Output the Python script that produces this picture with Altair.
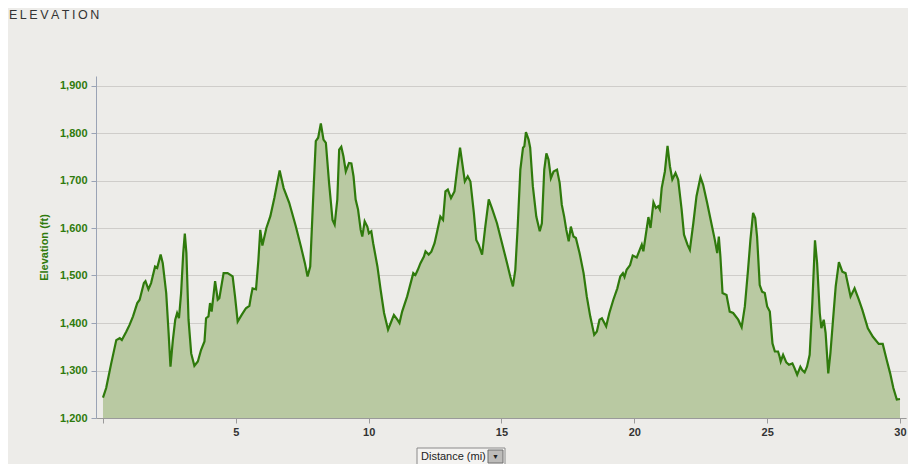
"""Elevation profile of a 30 mile route, drawn with Altair."""

import pandas as pd
import altair as alt

# distance along the route (miles) and elevation (feet)
distance_mi = [
    0.0, 0.12, 0.31, 0.5, 0.63, 0.71, 0.88, 1.0, 1.13, 1.29, 1.38, 1.54, 1.6,
    1.71, 1.81, 1.96, 2.04, 2.17, 2.25, 2.38, 2.47, 2.54, 2.63, 2.72, 2.79,
    2.86, 2.94, 3.02, 3.08, 3.14, 3.22, 3.32, 3.44, 3.57, 3.69, 3.82, 3.88,
    3.97, 4.03, 4.09, 4.22, 4.32, 4.38, 4.54, 4.69, 4.88, 4.97, 5.07, 5.22,
    5.38, 5.51, 5.57, 5.63, 5.76, 5.85, 5.92, 6.0, 6.15, 6.3, 6.45, 6.65, 6.8,
    7.01, 7.26, 7.45, 7.6, 7.7, 7.8, 7.92, 8.01, 8.1, 8.2, 8.3, 8.39, 8.51,
    8.64, 8.72, 8.82, 8.89, 8.97, 9.05, 9.14, 9.26, 9.35, 9.43, 9.51, 9.6, 9.7,
    9.76, 9.85, 9.95, 10.01, 10.1, 10.17, 10.33, 10.45, 10.58, 10.73, 10.83,
    10.95, 11.08, 11.16, 11.26, 11.45, 11.68, 11.76, 11.85, 11.95, 12.08,
    12.14, 12.26, 12.36, 12.48, 12.58, 12.7, 12.8, 12.89, 12.98, 13.1, 13.23,
    13.33, 13.44, 13.54, 13.62, 13.73, 13.83, 13.96, 14.05, 14.14, 14.27,
    14.39, 14.52, 14.64, 14.83, 15.02, 15.21, 15.33, 15.43, 15.52, 15.61,
    15.71, 15.81, 15.86, 15.92, 16.02, 16.08, 16.18, 16.31, 16.44, 16.52,
    16.61, 16.69, 16.77, 16.86, 16.96, 17.09, 17.19, 17.27, 17.36, 17.44,
    17.53, 17.61, 17.71, 17.8, 17.94, 18.09, 18.21, 18.34, 18.49, 18.59,
    18.69, 18.78, 18.94, 19.06, 19.21, 19.36, 19.47, 19.57, 19.63, 19.71,
    19.84, 19.94, 20.09, 20.28, 20.34, 20.44, 20.53, 20.61, 20.72, 20.81,
    20.9, 20.96, 21.03, 21.15, 21.25, 21.34, 21.43, 21.55, 21.65, 21.78,
    21.87, 22.0, 22.09, 22.22, 22.34, 22.49, 22.59, 22.74, 22.9, 23.03, 23.12,
    23.18, 23.24, 23.32, 23.47, 23.59, 23.72, 23.91, 24.04, 24.16, 24.28,
    24.37, 24.47, 24.55, 24.62, 24.72, 24.81, 24.91, 25.0, 25.1, 25.2, 25.29,
    25.41, 25.47, 25.51, 25.6, 25.72, 25.82, 25.95, 26.03, 26.13, 26.25,
    26.32, 26.41, 26.5, 26.6, 26.7, 26.8, 26.88, 26.98, 27.04, 27.13, 27.2,
    27.3, 27.38, 27.48, 27.58, 27.7, 27.83, 27.95, 28.14, 28.29, 28.45, 28.58,
    28.79, 28.98, 29.2, 29.35, 29.5, 29.63, 29.75, 29.88, 30.0,
]
elevation_ft = [
    1243, 1263, 1315, 1364, 1368, 1364, 1382, 1396, 1414, 1442, 1449, 1484,
    1488, 1471, 1484, 1519, 1516, 1544, 1526, 1463, 1379, 1308, 1364, 1407,
    1421, 1410, 1463, 1547, 1588, 1547, 1407, 1336, 1310, 1319, 1343, 1361,
    1410, 1414, 1442, 1424, 1488, 1449, 1452, 1505, 1505, 1498, 1456, 1403,
    1417, 1431, 1436, 1456, 1473, 1471, 1533, 1596, 1563, 1600, 1625, 1663,
    1721, 1684, 1653, 1603, 1561, 1526, 1498, 1519, 1674, 1783, 1790, 1820,
    1786, 1779, 1695, 1617, 1607, 1660, 1765, 1771, 1751, 1719, 1737, 1736,
    1709, 1660, 1639, 1596, 1582, 1614, 1603, 1589, 1593, 1568, 1519, 1470,
    1421, 1386, 1400, 1417, 1407, 1400, 1424, 1456, 1505, 1501, 1512, 1526,
    1540, 1551, 1544, 1550, 1568, 1593, 1624, 1617, 1677, 1681, 1663, 1677,
    1723, 1769, 1730, 1698, 1709, 1698, 1632, 1575, 1565, 1544, 1603, 1660,
    1642, 1610, 1568, 1526, 1498, 1477, 1512, 1603, 1723, 1769, 1772, 1802,
    1786, 1769, 1688, 1624, 1593, 1610, 1723, 1757, 1744, 1705, 1719, 1723,
    1695, 1649, 1624, 1596, 1572, 1603, 1582, 1579, 1547, 1505, 1456, 1414,
    1375, 1382, 1407, 1410, 1393, 1421, 1449, 1473, 1498, 1505, 1497, 1512,
    1522, 1542, 1538, 1565, 1551, 1589, 1623, 1600, 1654, 1642, 1646, 1639,
    1684, 1719, 1773, 1730, 1702, 1716, 1702, 1639, 1586, 1565, 1554, 1610,
    1667, 1707, 1691, 1653, 1610, 1575, 1547, 1582, 1540, 1463, 1459, 1424,
    1421, 1407, 1391, 1435, 1512, 1575, 1632, 1621, 1582, 1480, 1466, 1463,
    1435, 1424, 1357, 1340, 1340, 1329, 1319, 1333, 1317, 1312, 1315, 1305,
    1291, 1308, 1301, 1296, 1308, 1333, 1442, 1574, 1526, 1421, 1389, 1407,
    1379, 1294, 1336, 1407, 1477, 1528, 1508, 1505, 1456, 1473, 1449, 1428,
    1389, 1371, 1356, 1356, 1322, 1294, 1263, 1239, 1240,
]
x_ticks = [0, 5, 10, 15, 20, 25, 30]
y_ticks = [1200, 1300, 1400, 1500, 1600, 1700, 1800, 1900]

FONT = "Liberation Sans"
GREEN = "#2f7a0c"

df = pd.DataFrame({"distance": distance_mi, "elevation": elevation_ft})

profile = alt.Chart(df).mark_area(
    color="#b9c9a2", opacity=1, clip=True,
    line=alt.LineConfig(color=GREEN, strokeWidth=2.2)
).encode(
    x=alt.X("distance:Q",
            scale=alt.Scale(domain=[-0.263, 30.226], nice=False, zero=False),
            axis=alt.Axis(values=x_ticks, title="", grid=False,
                          labelExpr="datum.value == 0 ? '' : datum.label",
                          labelFont=FONT, labelFontSize=11,
                          labelFontWeight="bold", labelColor="#333333",
                          labelPadding=3, tickSize=5, tickColor="#9a9a9a",
                          domainColor="#9a9a9a")),
    y=alt.Y("elevation:Q",
            scale=alt.Scale(domain=[1200, 1920], nice=False, zero=False),
            axis=alt.Axis(values=y_ticks, format=",.0f",
                          title="Elevation (ft)",
                          titleFont=FONT, titleFontSize=11,
                          titleFontWeight="bold", titleColor=GREEN,
                          titlePadding=10,
                          labelFont=FONT, labelFontSize=11,
                          labelFontWeight="bold", labelColor=GREEN,
                          labelPadding=4, tickSize=5, tickColor="#9aa3b5",
                          domainColor="#9aa3b5", gridColor="#cfcdca")),
)

heading = alt.Chart(pd.DataFrame({"t": ["E\u2009L\u2009E\u2009V\u2009A\u2009T\u2009I\u2009O\u2009N"]})).mark_text(
    align="left", baseline="alphabetic", font=FONT, fontSize=12.5,
    color="#333333"
).encode(x=alt.value(-87), y=alt.value(-57), text="t:N")

# the "Distance (mi)" selector under the x axis
selector = pd.DataFrame({"label": ["Distance (mi)"]})
box = alt.Chart(selector).mark_rect(
    fill="#f4f3f1", stroke="#8a8a8a", strokeWidth=1
).encode(x=alt.value(321), x2=alt.value(409), y=alt.value(372), y2=alt.value(389))
button = alt.Chart(selector).mark_rect(
    fill="#bdbcba", stroke="#6f6f6f", strokeWidth=1
).encode(x=alt.value(392), x2=alt.value(407), y=alt.value(374), y2=alt.value(387))
arrow = alt.Chart(selector).mark_text(
    text="\u25bc", fontSize=7, color="#222222", align="center", baseline="middle"
).encode(x=alt.value(399.5), y=alt.value(381))
label = alt.Chart(selector).mark_text(
    align="left", baseline="middle", font=FONT, fontSize=11, color="#222222"
).encode(x=alt.value(325), y=alt.value(381), text="label:N")

chart = alt.layer(profile, heading, box, button, arrow, label).properties(
    width=810,
    height=342,
    background="#edece9",
    padding={"left": 88, "top": 68, "right": 2, "bottom": 46},
    autosize=alt.AutoSizeParams(type="none"),
).configure_view(
    stroke=None
)

chart.save("out.html", embed_options={"renderer": "svg", "actions": False})
